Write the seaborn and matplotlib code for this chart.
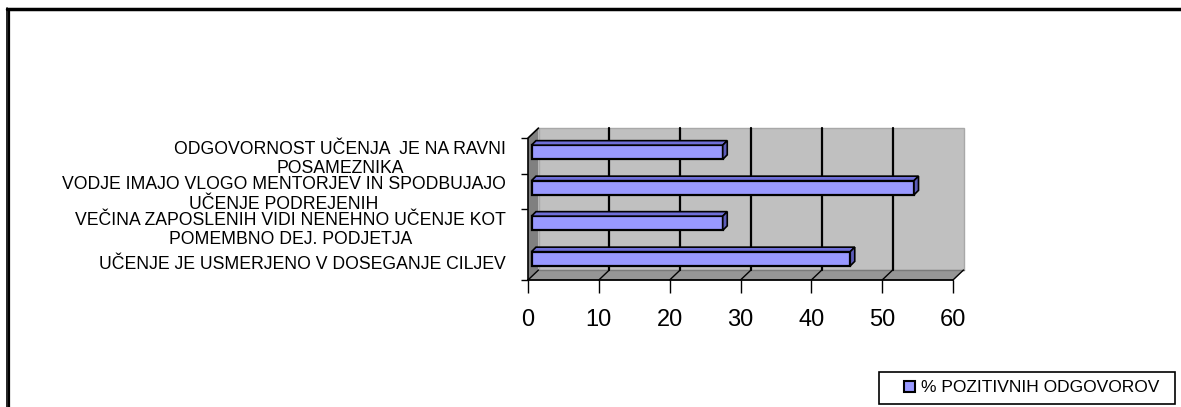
import matplotlib
matplotlib.use("Agg")
import matplotlib.pyplot as plt
import matplotlib.transforms as mtransforms
from matplotlib.patches import Polygon, Rectangle, Patch
from matplotlib.lines import Line2D
import seaborn as sns
import pandas as pd

categories = [
    "ODGOVORNOST UČENJA  JE NA RAVNI\nPOSAMEZNIKA",
    "VODJE IMAJO VLOGO MENTORJEV IN SPODBUJAJO\nUČENJE PODREJENIH",
    "VEČINA ZAPOSLENIH VIDI NENEHNO UČENJE KOT\nPOMEMBNO DEJ. PODJETJA",
    "UČENJE JE USMERJENO V DOSEGANJE CILJEV",
]
values = [27, 54, 27, 45]
series_name = "% POZITIVNIH ODGOVOROV"
xticks = [0, 10, 20, 30, 40, 50, 60]

sns.set_theme(style="white")
plt.rcParams["font.family"] = ["Liberation Sans", "DejaVu Sans"]
for k in ["text.color", "axes.labelcolor", "xtick.color", "ytick.color",
          "xtick.labelcolor", "ytick.labelcolor"]:
    plt.rcParams[k] = "black"

W, H = 1181, 407
fig = plt.figure(figsize=(W / 100, H / 100), dpi=100)
fig.patch.set_facecolor("white")

# axes: x 0 at px 528, 60 at px 953; y from 138 (top) to 280 (bottom)
ax = fig.add_axes([528 / W, 1 - 280 / H, (953 - 528) / W, (280 - 138) / H])
ax.set_facecolor("none")

df = pd.DataFrame({"cat": categories, "val": values})
sns.barplot(data=df, y="cat", x="val", orient="h", color="#9999FF",
            edgecolor="black", linewidth=1.6, width=0.40, saturation=1,
            ax=ax, zorder=5)
bars = [p for p in ax.patches]
ax.set_xlim(0, 60)
ax.set_ylim(3.5, -0.5)
ax.set_xticks(xticks)
ax.set_xticklabels([str(t) for t in xticks], fontsize=17)
ax.set_xlabel("")
ax.set_ylabel("")
for s in ["top", "right", "left"]:
    ax.spines[s].set_visible(False)
ax.spines["bottom"].set_color("black")
ax.spines["bottom"].set_linewidth(1.3)
ax.spines["bottom"].set_zorder(3)
ax.tick_params(axis="x", length=9, width=1, color="black", pad=12, direction="out", bottom=True)
ax.tick_params(axis="y", which="major", length=0, pad=16, left=False, labelsize=12.7)
ax.set_yticks([-0.5, 0.5, 1.5, 3.5], minor=True)
ax.tick_params(axis="y", which="minor", length=5, width=1, color="black", direction="out", left=True)
for lab in ax.get_yticklabels():
    lab.set_multialignment("center")
    lab.set_linespacing(1.2)

# 3D frame decorations (pixel offsets)
dx, dy = 10.5 / 425, 10 / 142
trans = ax.transAxes
ax.add_patch(Rectangle((dx, dy), 1.0, 1.07 - dy, transform=trans, facecolor="#C0C0C0",
                       edgecolor="#A8A8A8", lw=1, zorder=0, clip_on=False))
ax.add_patch(Polygon([(0, 0), (dx, dy), (dx, 1.07), (0, 1.07 - dy)], closed=True, transform=trans,
                     facecolor="#808080", edgecolor="none", lw=0, zorder=1, clip_on=False))
ax.add_line(Line2D([0, 0, dx], [0, 1.07 - dy, 1.07], transform=trans, color="black", lw=1.2,
                   zorder=2, clip_on=False))
ax.add_patch(Polygon([(0, 0), (dx, dy), (1 + dx, dy), (1, 0)], closed=True, transform=trans,
                     facecolor="#969696", edgecolor="none", lw=0, zorder=1, clip_on=False))
ax.add_line(Line2D([dx, 1 + dx], [dy, dy], transform=trans, color="#7A7A7A", lw=1,
                   zorder=1.5, clip_on=False))
blend = mtransforms.blended_transform_factory(ax.transData, ax.transAxes)
off = mtransforms.ScaledTranslation(10.5 / 100, 0, fig.dpi_scale_trans)
for t in xticks[1:-1]:
    ax.add_line(Line2D([t, t], [dy, 1.07], transform=blend + off, color="black", lw=1.6,
                       zorder=2, clip_on=False))
fig.canvas.draw()
for t in xticks:
    p0 = ax.transData.transform((t, 3.5))
    ax.add_line(Line2D([p0[0], p0[0] + 10.5], [p0[1], p0[1] + 10], transform=None, color="black",
                       lw=1, zorder=2, clip_on=False))

# bar 3D shading
bar_off = mtransforms.ScaledTranslation(3.5 / 100, 3.5 / 100, fig.dpi_scale_trans)
d = 4.5
for p in bars:
    if p.get_width() <= 0:
        continue
    tr = ax.transData + bar_off
    p.set_transform(tr)
    x0, y0 = p.get_x(), p.get_y()
    w, h = p.get_width(), p.get_height()
    (ax0, ay_top) = tr.transform((x0, y0))
    (ax1, ay_bot) = tr.transform((x0 + w, y0 + h))
    top = Polygon([(ax0, ay_top), (ax0 + d, ay_top + d), (ax1 + d, ay_top + d), (ax1, ay_top)],
                  closed=True, transform=None, facecolor="#6F6FD8", edgecolor="black", lw=1.2, zorder=4)
    side = Polygon([(ax1, ay_top), (ax1 + d, ay_top + d), (ax1 + d, ay_bot + d), (ax1, ay_bot)],
                   closed=True, transform=None, facecolor="#5C5CB8", edgecolor="black", lw=1.2, zorder=4)
    fig.add_artist(top)
    fig.add_artist(side)

# legend: frame drawn separately, content centred in it
lx0, ly0, lx1, ly1 = 879, 372, 1175, 404
fig.add_artist(Rectangle((lx0 / W, 1 - ly1 / H), (lx1 - lx0) / W, (ly1 - ly0) / H,
                         transform=fig.transFigure, facecolor="white", edgecolor="black", lw=1.2))
handle = Patch(facecolor="#9999FF", edgecolor="black", lw=1.5)
leg = fig.legend([handle], [series_name], loc="center",
                 bbox_to_anchor=((lx0 + lx1) / 2 / W + 0.004, 1 - (ly0 + ly1) / 2 / H),
                 frameon=False, fontsize=12.5, handlelength=0.6,
                 handleheight=0.6, handletextpad=0.35, borderpad=0, borderaxespad=0)

# outer border (top thick line, left double line)
fig.add_artist(Line2D([7 / W, 1], [1 - 9 / H, 1 - 9 / H], transform=fig.transFigure, color="black", lw=2.5))
fig.add_artist(Line2D([6.5 / W, 6.5 / W], [0, 1 - 8 / H], transform=fig.transFigure, color="black", lw=1.2))
fig.add_artist(Line2D([9.5 / W, 9.5 / W], [0, 1 - 10 / H], transform=fig.transFigure, color="black", lw=1.6))

fig.savefig("out.png", dpi=100, facecolor="white")
